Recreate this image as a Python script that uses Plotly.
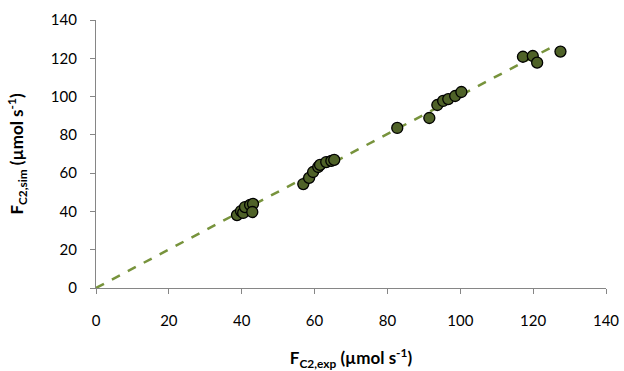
import numpy as np
import plotly.graph_objects as go

# Measured vs simulated C2 flow (µmol s-1)
f_exp = [38.7, 39.8, 40.4, 40.9, 42.3, 43.1, 42.9,
         56.9, 58.5, 59.6, 61.0, 61.5, 63.2, 64.6, 65.4,
         82.7, 91.5, 93.7, 95.3, 96.7, 98.6, 100.3,
         117.2, 119.9, 121.1, 127.5]
f_sim = [38.1, 40.2, 39.2, 42.3, 43.4, 43.9, 39.7,
         54.3, 57.5, 60.6, 63.2, 64.3, 65.8, 66.4, 66.9,
         83.6, 88.8, 95.6, 97.7, 98.7, 100.3, 102.4,
         120.8, 121.2, 117.7, 123.5]
ticks = [0, 20, 40, 60, 80, 100, 120, 140]

x = np.array(f_exp)
y = np.array(f_sim)
# linear trend through the origin
slope = float(np.sum(x * y) / np.sum(x * x))
x_fit = np.array([0.0, 126.6])
y_fit = slope * x_fit

fig = go.Figure()
fig.add_trace(go.Scatter(
    x=x_fit, y=y_fit, mode="lines",
    line=dict(color="#77933C", width=2.5, dash="dash"),
    hoverinfo="skip", showlegend=False))
fig.add_trace(go.Scatter(
    x=f_exp, y=f_sim, mode="markers",
    marker=dict(size=11, color="#4F6228", line=dict(color="black", width=1.3)),
    showlegend=False))

font_family = "Lato, Open Sans, sans-serif"
axis_common = dict(
    range=[0, 140], tickvals=ticks, ticktext=[str(t) for t in ticks],
    showgrid=False, zeroline=False, showline=True, linecolor="#868686",
    linewidth=1.3, ticks="outside", tickcolor="#868686", ticklen=5, tickwidth=1,
    tickfont=dict(family=font_family, size=15, color="black"),
    automargin=False,
)

fig.update_layout(
    width=624, height=371,
    margin=dict(l=96, r=18, t=20, b=83),
    paper_bgcolor="white", plot_bgcolor="white",
    xaxis=dict(**axis_common, ticklabelstandoff=14,
               title=dict(text="<b>F<sub>C2,exp</sub> (µmol s<sup>-1</sup>)</b>",
                          font=dict(family=font_family, size=17, color="black"),
                          standoff=26)),
    yaxis=dict(**axis_common, ticklabelstandoff=10,
               title=dict(text="<b>F<sub>C2,sim</sub> (µmol s<sup>-1</sup>)</b>",
                          font=dict(family=font_family, size=17, color="black"),
                          standoff=22)),
)

fig.write_html("out.html")
